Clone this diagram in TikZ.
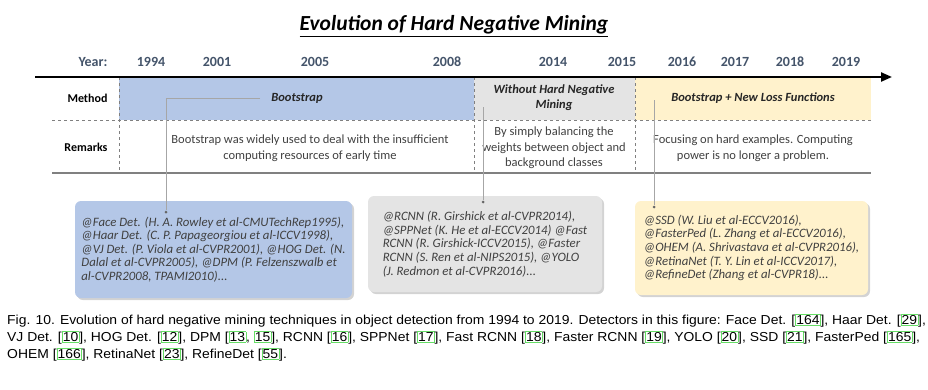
\documentclass[tikz,border=0pt]{standalone}
\usepackage{fontspec}
\setmainfont{Carlito}
\newfontfamily\capfont[FakeStretch=1.07]{Liberation Sans}
\usetikzlibrary{arrows.meta,shadows}
\definecolor{bandblue}{HTML}{B4C7E7}
\definecolor{bandgray}{HTML}{E4E4E4}
\definecolor{bandyellow}{HTML}{FFF2CC}
\definecolor{yeargray}{HTML}{44546A}
\definecolor{rulegray}{HTML}{808080}
\definecolor{linkgray}{HTML}{A6A6A6}
\definecolor{reftext}{HTML}{404040}
\definecolor{citegreen}{HTML}{66DD66}
\newcommand{\gcite}[1]{{\setlength{\fboxsep}{0.4pt}\setlength{\fboxrule}{0.6pt}\fcolorbox{citegreen}{white}{#1}}}
\tikzset{
  year/.style={font=\bfseries\fontsize{14}{16}\selectfont, text=yeargray},
  rowlabel/.style={font=\bfseries\fontsize{12}{14}\selectfont, anchor=east},
  method/.style={font=\bfseries\itshape\fontsize{12.5}{15}\selectfont, align=center, text=black!85},
  remark/.style={font=\fontsize{12.5}{15.5}\selectfont, align=center, text=reftext},
  refbox/.style={rounded corners=6pt, align=left, text=reftext,
    font=\itshape\fontsize{12.8}{13.6}\selectfont,
    drop shadow={opacity=0.35, shadow xshift=2pt, shadow yshift=-2pt}},
  link/.style={draw=linkgray, line width=0.8pt},
  dot/.style={circle, fill=black!60, inner sep=0pt, minimum size=3pt}
}
\begin{document}
\begin{tikzpicture}[x=1pt, y=-1pt]
\useasboundingbox (0,0) rectangle (928,389);
\node[font=\bfseries\itshape\fontsize{21.5}{25}\selectfont] (title) at (454,26) {\underline{Evolution of Hard Negative Mining}};
\fill[bandblue] (119,77) rectangle (474,120);
\fill[bandgray] (474,77) rectangle (635,120);
\fill[bandyellow] (635,77) rectangle (871,120);
\node[year, anchor=east] (yr) at (111,62) {Year:};
\node[year] (y1994) at (151,62) {1994};
\node[year] (y2001) at (217,62) {2001};
\node[year] (y2005) at (315,62) {2005};
\node[year] (y2008) at (447,62) {2008};
\node[year] (y2014) at (553,62) {2014};
\node[year] (y2015) at (622,62) {2015};
\node[year] (y2016) at (682,62) {2016};
\node[year] (y2017) at (735,62) {2017};
\node[year] (y2018) at (790,62) {2018};
\node[year] (y2019) at (846,62) {2019};
\draw[rulegray, dashed, line width=1pt] (52,120) -- (871,120);
\draw[rulegray, line width=1.5pt] (52,173) -- (871,173);
\draw[rulegray, dashed, line width=1pt] (119,77) -- (119,173);
\draw[rulegray, dashed, line width=1pt] (474,77) -- (474,173);
\draw[rulegray, dashed, line width=1pt] (635,77) -- (635,173);
\draw[line width=2.2pt, -{Triangle[length=11pt, width=9pt]}] (35,77) -- (892,77);
\node[rowlabel] (method) at (111,98) {Method};
\node[rowlabel] (remarks) at (111,147) {Remarks};
\node[method] (boot) at (297,98) {Bootstrap};
\node[method] (nohard) at (554,98) {Without Hard Negative\\Mining};
\node[method] (newloss) at (753,98) {Bootstrap + New Loss Functions};
\node[remark] (rm1) at (310,148) {Bootstrap was widely used to deal with the insufficient\\computing resources of early time};
\node[remark] (rm2) at (554,148) {By simply balancing the\\weights between object and\\background classes};
\node[remark] (rm3) at (753,148) {Focusing on hard examples. Computing\\power is no longer a problem.};
\node[refbox, fill=bandblue, minimum width=277pt, minimum height=97pt] (ref1) at (213.5,249.5)
  {@Face Det. (H. A. Rowley et al-CMUTechRep1995),\\@Haar Det. (C. P. Papageorgiou et al-ICCV1998),\\@VJ Det. (P. Viola et al-CVPR2001), @HOG Det. (N.\\Dalal et al-CVPR2005), @DPM (P. Felzenszwalb et\\al-CVPR2008, TPAMI2010)...};
\node[refbox, fill=bandgray, minimum width=234pt, minimum height=96pt] (ref2) at (485,244)
  {@RCNN (R. Girshick et al-CVPR2014),\\@SPPNet (K. He et al-ECCV2014) @Fast\\RCNN (R. Girshick-ICCV2015), @Faster\\RCNN (S. Ren et al-NIPS2015), @YOLO\\(J. Redmon et al-CVPR2016)...};
\node[refbox, fill=bandyellow, minimum width=233pt, minimum height=94pt] (ref3) at (751.5,248)
  {@SSD (W. Liu et al-ECCV2016),\\@FasterPed (L. Zhang et al-ECCV2016),\\@OHEM (A. Shrivastava et al-CVPR2016),\\@RetinaNet (T. Y. Lin et al-ICCV2017),\\@RefineDet (Zhang et al-CVPR18)...};
\coordinate (l1) at (260,98);
\coordinate (l2) at (483,107);
\coordinate (l3) at (654,100);
\node[dot] (p1) at (166,212) {};
\node[dot] (p2) at (483,202) {};
\node[dot] (p3) at (654,207) {};
\draw[link] (l1) -| (p1);
\draw[link] (l2) -- (p2);
\draw[link] (l3) -- (p3);
\node[anchor=north west, align=left, font=\capfont\fontsize{13}{17}\selectfont, inner sep=0pt] (caption) at (7,314)
  {Fig. 10. Evolution of hard negative mining techniques in object detection from 1994 to 2019. Detectors in this figure: Face Det. [\gcite{164}], Haar Det. [\gcite{29}],\\
   VJ Det. [\gcite{10}], HOG Det. [\gcite{12}], DPM [\gcite{13}, \gcite{15}], RCNN [\gcite{16}], SPPNet [\gcite{17}], Fast RCNN [\gcite{18}], Faster RCNN [\gcite{19}], YOLO [\gcite{20}], SSD [\gcite{21}], FasterPed [\gcite{165}],\\
   OHEM [\gcite{166}], RetinaNet [\gcite{23}], RefineDet [\gcite{55}].};
\end{tikzpicture}
\end{document}
